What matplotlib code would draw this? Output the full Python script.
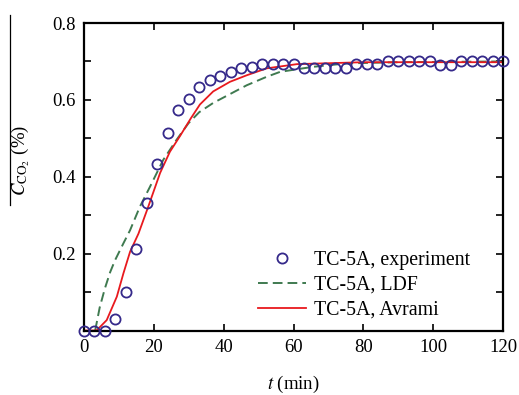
import matplotlib
matplotlib.use("Agg")
import matplotlib.pyplot as plt
from matplotlib.lines import Line2D

# ---- data ----
t_exp = [0, 3, 6, 9, 12, 15, 18, 21, 24, 27, 30, 33, 36, 39, 42, 45, 48, 51, 54, 57,
         60, 63, 66, 69, 72, 75, 78, 81, 84, 87, 90, 93, 96, 99, 102, 105, 108, 111,
         114, 117, 120]
c_exp = [0.0, 0.0, 0.0, 0.031, 0.100, 0.211, 0.331, 0.432, 0.513, 0.574, 0.602, 0.633,
         0.652, 0.662, 0.673, 0.682, 0.685, 0.693, 0.693, 0.693, 0.693, 0.682, 0.682,
         0.682, 0.682, 0.682, 0.693, 0.693, 0.693, 0.702, 0.702, 0.702, 0.702, 0.702,
         0.692, 0.692, 0.702, 0.702, 0.702, 0.702, 0.702]

t_ldf = [3.2, 4.5, 6, 7.5, 8.9, 11.3, 13.2, 16, 18.9, 22.7, 26.5, 29.9, 33, 37, 41.8,
         46.6, 52.3, 56.2, 65.6, 75.3, 90, 105, 120]
c_ldf = [0.0, 0.060, 0.110, 0.152, 0.183, 0.227, 0.261, 0.322, 0.374, 0.444, 0.496,
         0.539, 0.568, 0.592, 0.615, 0.638, 0.660, 0.673, 0.686, 0.695, 0.698, 0.699,
         0.700]

t_avr = [0, 3.6, 6.5, 9.4, 11.3, 13.2, 15.6, 18.4, 21.8, 24.6, 27.5, 30.6, 33.2, 37,
         41.8, 46.6, 52.3, 61, 80, 100, 120]
c_avr = [0.0, 0.0, 0.027, 0.088, 0.149, 0.205, 0.252, 0.322, 0.410, 0.465, 0.506,
         0.552, 0.588, 0.622, 0.647, 0.664, 0.682, 0.693, 0.698, 0.698, 0.698]

x_ticks = [0, 20, 40, 60, 80, 100, 120]
y_ticks = [0.1, 0.2, 0.3, 0.4, 0.5, 0.6, 0.7, 0.8]
y_tick_labels = ["", "0.2", "", "0.4", "", "0.6", "", "0.8"]

labels = ["TC-5A, experiment", "TC-5A, LDF", "TC-5A, Avrami"]

# ---- style ----
plt.rcParams["font.family"] = ["Liberation Serif", "DejaVu Serif"]
plt.rcParams["mathtext.fontset"] = "stix"
FS = 13.5

W, H = 519, 395
fig = plt.figure(figsize=(W / 100, H / 100), dpi=100)
ax = fig.add_axes([84 / W, 1 - 330.5 / H, (503 - 84) / W, (330.5 - 23) / H])

ax.plot(t_exp, c_exp, linestyle="none", marker="o", markersize=7.3,
        markerfacecolor="none", markeredgecolor="#35298a", markeredgewidth=1.3,
        label=labels[0], zorder=4, clip_on=False)
ax.plot(t_ldf, c_ldf, linestyle=(0, (5, 2.6)), color="#3f7a50", linewidth=1.4,
        label=labels[1], zorder=2)
ax.plot(t_avr, c_avr, linestyle="-", color="#e8191e", linewidth=1.3,
        label=labels[2], zorder=2)

ax.set_xlim(0, 120)
ax.set_ylim(0, 0.8)
ax.set_xticks(x_ticks)
ax.set_xticklabels([str(v) for v in x_ticks])
ax.set_yticks(y_ticks)
ax.set_yticklabels(y_tick_labels)
ax.tick_params(direction="in", length=5, width=1.2, top=True, right=True,
               labelsize=FS, pad=6)
for s in ax.spines.values():
    s.set_linewidth(1.6)

ax.set_xlabel("$t$ (min)", fontsize=FS, labelpad=13)

fig.text(21 / W, 1 - 160 / H, r"$C_{\mathrm{CO}_2}$ (%)", rotation=90,
         ha="center", va="center", fontsize=FS)
fig.add_artist(Line2D([10 / W, 10 / W], [1 - 15 / H, 1 - 205 / H],
                      transform=fig.transFigure, color="black", linewidth=0.9))

leg = ax.legend(loc="center left",
                bbox_to_anchor=((258 - 84) / 419, (330.5 - 285.5) / 307.5),
                frameon=False, fontsize=14.3, handlelength=2.4,
                handletextpad=0.4, labelspacing=0.3, borderpad=0,
                borderaxespad=0)

fig.savefig("out.png", dpi=100)
